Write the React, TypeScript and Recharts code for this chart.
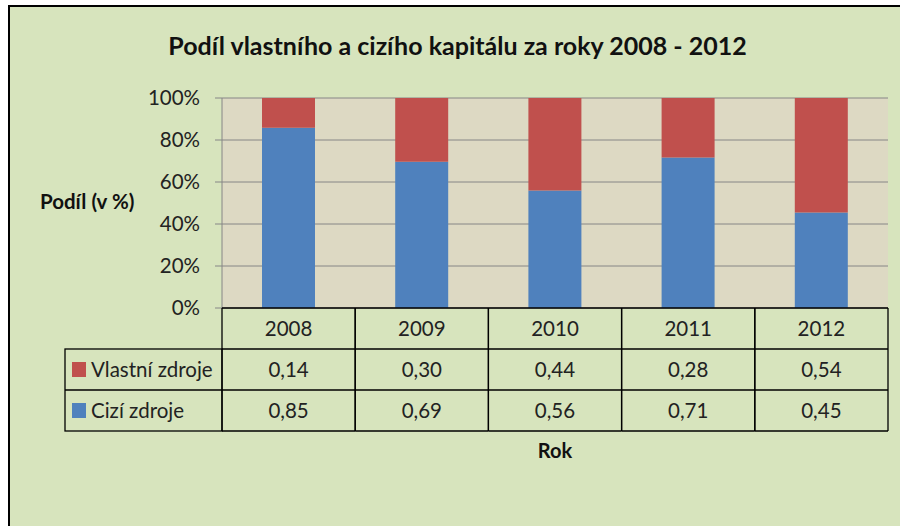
import { BarChart, Bar, XAxis, YAxis, CartesianGrid } from "recharts";

const YEARS = ["2008", "2009", "2010", "2011", "2012"];
const VLASTNI = [0.14, 0.3, 0.44, 0.28, 0.54];
const CIZI = [0.85, 0.69, 0.56, 0.71, 0.45];
const Y_TICKS = [0, 0.2, 0.4, 0.6, 0.8, 1];

const BLUE = "#4f81bd";
const RED = "#c0504d";
const FONT = "Lato, 'Open Sans', sans-serif";
const FS = 20.5;

// table layout (px)
const CELL_W = (900 - 222 - 12) / YEARS.length;
const ROW_H = 41;
const LEGEND_X = 65;

const data = YEARS.map((year, i) => ({ year, cizi: CIZI[i], vlastni: VLASTNI[i] }));

const fmt = (v: number) => v.toFixed(2).replace(".", ",");

function TableTick(props: any) {
  const { x, y, payload } = props;
  const i = YEARS.indexOf(payload.value);
  const left = x - CELL_W / 2;
  const right = x + CELL_W / 2;
  const line = { stroke: "#000", strokeWidth: 1.3 };
  const txt = { fontSize: FS, fill: "#222", fontFamily: FONT, textAnchor: "middle" as const };
  return (
    <g>
      <line x1={left} x2={left} y1={y} y2={y + 3 * ROW_H} {...line} />
      <line x1={right} x2={right} y1={y} y2={y + 3 * ROW_H} {...line} />
      <line x1={left} x2={right} y1={y + ROW_H} y2={y + ROW_H} {...line} />
      <line x1={left} x2={right} y1={y + 2 * ROW_H} y2={y + 2 * ROW_H} {...line} />
      <line x1={left} x2={right} y1={y + 3 * ROW_H} y2={y + 3 * ROW_H} {...line} />
      <text x={x} y={y + ROW_H / 2 + 7} {...txt}>{payload.value}</text>
      <text x={x} y={y + ROW_H * 1.5 + 7} {...txt}>{fmt(VLASTNI[i])}</text>
      <text x={x} y={y + ROW_H * 2.5 + 7} {...txt}>{fmt(CIZI[i])}</text>
      {i === 0 && (
        <g>
          <rect x={LEGEND_X} y={y + ROW_H} width={left - LEGEND_X} height={2 * ROW_H} fill="none" {...line} />
          <line x1={LEGEND_X} x2={left} y1={y + 2 * ROW_H} y2={y + 2 * ROW_H} {...line} />
          <rect x={LEGEND_X + 7} y={y + ROW_H + 13} width={14} height={15} fill={RED} />
          <text x={LEGEND_X + 26} y={y + ROW_H * 1.5 + 7} fontSize={FS} fill="#222" fontFamily={FONT}>
            Vlastní zdroje
          </text>
          <rect x={LEGEND_X + 7} y={y + 2 * ROW_H + 13} width={14} height={15} fill={BLUE} />
          <text x={LEGEND_X + 26} y={y + ROW_H * 2.5 + 7} fontSize={FS} fill="#222" fontFamily={FONT}>
            Cizí zdroje
          </text>
        </g>
      )}
    </g>
  );
}

export default function App() {
  return (
    <div style={{ position: "absolute", left: 0, top: 0, width: 900, height: 526, background: "#fff", overflow: "hidden", fontFamily: FONT }}>
      <div
        style={{
          position: "absolute",
          left: 8,
          top: 5,
          width: 900,
          height: 530,
          borderLeft: "2px solid #000",
          borderTop: "2px solid #000",
          background: "#d7e4bd",
        }}
      />
      <div style={{ position: "absolute", left: 0, width: 915, top: 30, textAlign: "center", fontWeight: 700, fontSize: 25, color: "#111" }}>
        Podíl vlastního a cizího kapitálu za roky 2008 - 2012
      </div>
      <div style={{ position: "absolute", left: 40, top: 189, fontWeight: 700, fontSize: 20.5, color: "#111" }}>
        Podíl (v %)
      </div>
      <div style={{ position: "absolute", left: 222, width: 666, top: 438, textAlign: "center", fontWeight: 700, fontSize: 20, color: "#111" }}>
        Rok
      </div>
      <div style={{ position: "absolute", left: 0, top: 0 }}>
        <BarChart
          width={900}
          height={526}
          data={data}
          stackOffset="expand"
          margin={{ top: 98, right: 12, bottom: 95, left: 0 }}
        >
          <CartesianGrid vertical={false} stroke="#868686" fill="#ddd9c3" />
          <YAxis
            width={222}
            domain={[0, 1]}
            ticks={Y_TICKS}
            tickFormatter={(v: number) => `${Math.round(v * 100)}%`}
            tick={{ fontSize: FS, fill: "#222", fontFamily: FONT }}
            axisLine={{ stroke: "#868686" }}
            tickLine={{ stroke: "#868686" }}
            tickSize={7}
            tickMargin={15}
          />
          <XAxis
            dataKey="year"
            height={123}
            interval={0}
            tickSize={0}
            tickMargin={0}
            tickLine={false}
            axisLine={{ stroke: "#000", strokeWidth: 1.3 }}
            tick={<TableTick />}
          />
          <Bar dataKey="cizi" stackId="a" fill={BLUE} barSize={53} isAnimationActive={false} />
          <Bar dataKey="vlastni" stackId="a" fill={RED} barSize={53} isAnimationActive={false} />
        </BarChart>
      </div>
    </div>
  );
}
